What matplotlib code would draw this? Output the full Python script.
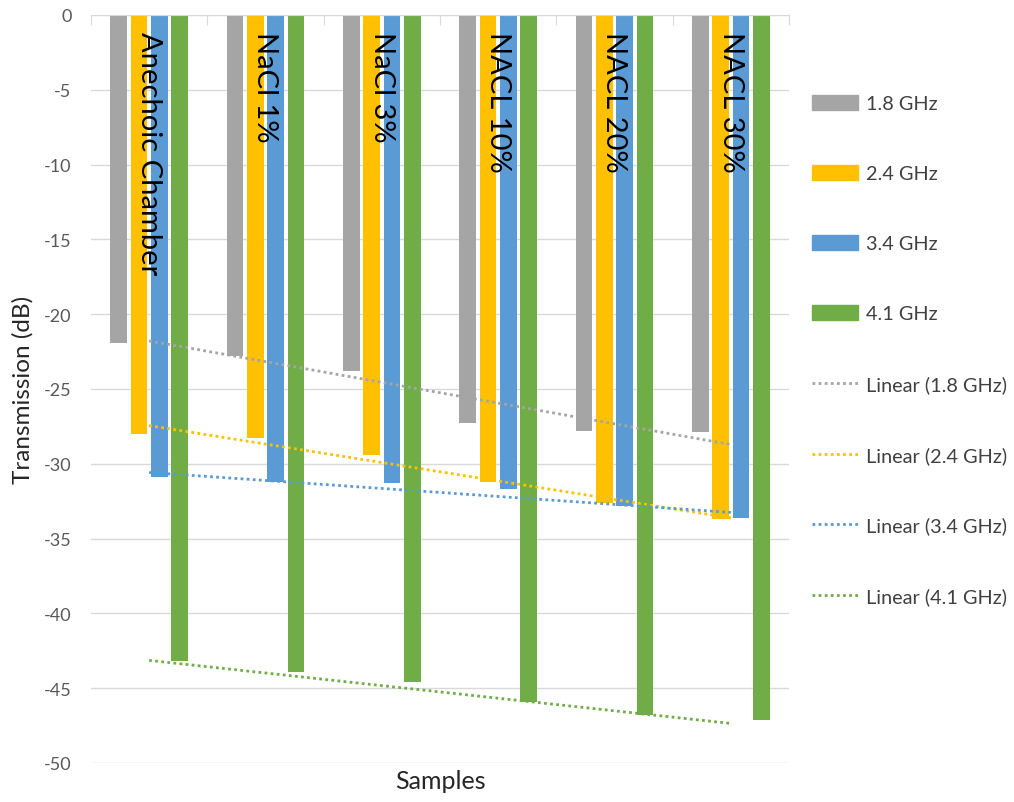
import numpy as np
import matplotlib.pyplot as plt
from matplotlib.patches import Patch
from matplotlib.lines import Line2D

plt.rcParams["font.family"] = ["Lato", "DejaVu Sans"]
plt.rcParams["axes.unicode_minus"] = False

samples = ["Anechoic Chamber", "NaCl 1%", "NaCl 3%", "NACL 10%", "NACL 20%", "NACL 30%"]
freqs = ["1.8 GHz", "2.4 GHz", "3.4 GHz", "4.1 GHz"]

t_18 = [-21.9, -22.8, -23.8, -27.3, -27.8, -27.9]
t_24 = [-28.0, -28.3, -29.4, -31.2, -32.6, -33.7]
t_34 = [-30.9, -31.2, -31.3, -31.7, -32.8, -33.6]
t_41 = [-43.2, -43.9, -44.6, -45.9, -46.8, -47.1]

colors = ["#a5a5a5", "#ffc000", "#5b9bd5", "#70ad47"]

fig = plt.figure(figsize=(10.14, 8.03), dpi=100)
ax = fig.add_axes([0.0897, 0.0486, 0.6884, 0.9315])

x = np.arange(len(samples))
width = 0.142
step = 0.175
series = [t_18, t_24, t_34, t_41]

for i, (vals, col) in enumerate(zip(series, colors)):
    ax.bar(x + (i - 1.5) * step, vals, width, color=col, zorder=2)

# linear trendlines over the sample index
for vals, col in zip(series, colors):
    k, b = np.polyfit(x, vals, 1)
    ax.plot(x, k * x + b, color=col, lw=2, ls=(0, (1, 1.2)), zorder=3)

for i, s in enumerate(samples):
    ax.text(i, -1.1, s, rotation=-90, ha="center", va="top", fontsize=21, color="black", zorder=4)

ax.set_xlim(-0.5, len(samples) - 0.5)
ax.set_ylim(-50, 0)
ax.set_yticks(np.arange(-50, 1, 5))
ax.grid(axis="y", color="#d9d9d9", lw=1, zorder=0)
ax.tick_params(axis="y", length=0, pad=14, labelsize=13, labelcolor="#595959")

ax.xaxis.tick_top()
ax.set_xticks(np.arange(-0.5, len(samples), 1))
ax.tick_params(axis="x", direction="in", length=7, color="#d9d9d9", labeltop=False, labelbottom=False)
for sp in ["left", "right", "bottom"]:
    ax.spines[sp].set_visible(False)
ax.spines["top"].set_color("#d9d9d9")

ax.xaxis.set_label_position("bottom")
ax.set_xlabel("Samples", fontsize=18, color="#262626", labelpad=4)
ax.set_ylabel("Transmission (dB)", fontsize=17.5, color="#262626")
ax.yaxis.set_label_coords(-0.082, 0.5)

handles = [Patch(color=c, label=f) for c, f in zip(colors, freqs)]
handles += [Line2D([], [], color=c, lw=2, ls=(0, (1, 1.2)), label="Linear (%s)" % f)
            for c, f in zip(colors, freqs)]
fig.legend(handles=handles, loc="upper left", bbox_to_anchor=(812 / 1014, 1 - 96 / 803),
           frameon=False, fontsize=14.3, handlelength=2.32, handleheight=0.75,
           handletextpad=0.4, labelspacing=2.66, borderpad=0, borderaxespad=0,
           labelcolor="#404040")

fig.savefig("out.png", dpi=100)
